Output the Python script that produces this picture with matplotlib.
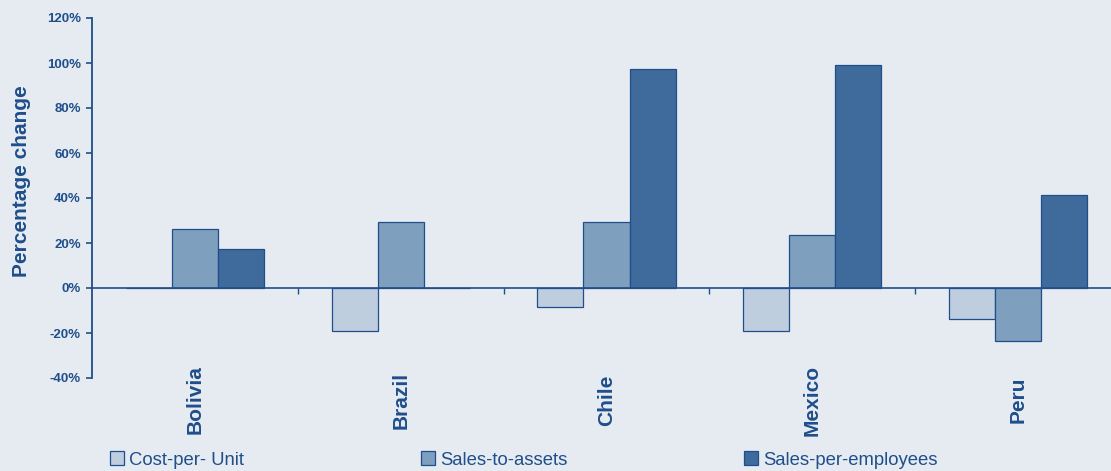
import matplotlib.pyplot as plt
import numpy as np

countries = ['Bolivia', 'Brazil', 'Chile', 'Mexico', 'Peru']
cost_per_unit = [0, -19.1, -8.3, -19.0, -13.8]
sales_to_assets = [26.1, 29.5, 29.2, 23.6, -23.4]
sales_per_employees = [17.5, 0, 97.3, 99.1, 41.2]
series_names = ['Cost-per- Unit', 'Sales-to-assets', 'Sales-per-employees']

bg = '#e6ebf2'
blue = '#1f4e8a'
colors = ['#bfcedf', '#7f9fbe', '#3f6b9c']

plt.rcParams['font.family'] = ['Liberation Sans', 'DejaVu Sans']

fig = plt.figure(figsize=(11.11, 4.71), dpi=100, facecolor=bg)
ax = fig.add_axes([92 / 1111, 93 / 471, 1029 / 1111, 360 / 471])
ax.set_facecolor(bg)

x = np.arange(len(countries))
w = 0.224
for i, (vals, c, name) in enumerate(zip([cost_per_unit, sales_to_assets, sales_per_employees], colors, series_names)):
    ax.bar(x + (i - 1) * w, vals, w, color=c, edgecolor=blue, linewidth=0.9, label=name, zorder=2)

ax.set_xlim(-0.5, 4.5)
ax.set_ylim(-40, 120)
ax.set_yticks(range(-40, 121, 20))
ax.set_yticklabels([f'{v}%' for v in range(-40, 121, 20)])
ax.tick_params(axis='y', colors=blue, labelcolor=blue, length=4, width=1.2, pad=4)
for t in ax.get_yticklabels():
    t.set_fontsize(9.5)
    t.set_fontweight('bold')

ax.set_xticks(np.arange(0.5, 4.5, 1))
ax.set_xticklabels([])
ax.tick_params(axis='x', colors=blue, length=4, width=1, direction='out')

for s in ['top', 'right']:
    ax.spines[s].set_visible(False)
ax.spines['bottom'].set_position(('data', 0))
ax.spines['bottom'].set_color(blue)
ax.spines['bottom'].set_zorder(3)
ax.spines['left'].set_color(blue)
ax.spines['left'].set_linewidth(1.3)
ax.spines['bottom'].set_linewidth(1.2)

for xi, name in zip(x, countries):
    ax.text(xi, -0.061, name, transform=ax.get_xaxis_transform(), rotation=90,
            ha='center', va='center', fontsize=15, fontweight='bold', color=blue)

fig.text(22 / 1111, (471 - 181) / 471, 'Percentage change', rotation=90, ha='center', va='center',
         fontsize=15, fontweight='bold', color=blue)

leg = fig.legend(loc='center left', bbox_to_anchor=(110 / 1111, 11 / 471), ncol=3, frameon=False,
                 fontsize=13.3, handlelength=0.75, handleheight=0.75, handletextpad=0.3,
                 columnspacing=9.55, borderpad=0, borderaxespad=0)
for t in leg.get_texts():
    t.set_color(blue)

fig.savefig('out.png', dpi=100, facecolor=bg)
